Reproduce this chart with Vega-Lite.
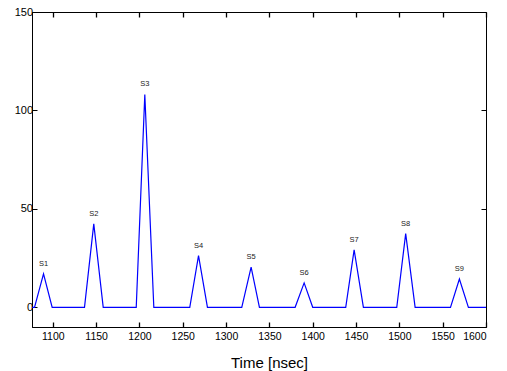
{
  "$schema": "https://vega.github.io/schema/vega-lite/v6.json",
  "width": 454,
  "height": 315,
  "autosize": {"type": "none"},
  "padding": {"left": 32, "top": 12, "right": 21, "bottom": 44},
  "background": "white",
  "config": {
    "view": {"stroke": "black", "strokeWidth": 1},
    "axis": {
      "grid": false,
      "labelFont": "Liberation Sans",
      "titleFont": "Liberation Sans",
      "labelColor": "black",
      "titleColor": "black",
      "tickColor": "black",
      "domainColor": "black",
      "labelFontSize": 11,
      "tickSize": -5,
      "labelFontWeight": "normal",
      "titleFontWeight": "normal"
    }
  },
  "data": {
    "values": [
      {"t": 1076, "v": 0},
      {"t": 1078.9, "v": 0},
      {"t": 1089.3, "v": 17.0, "label": "S1"},
      {"t": 1099.3, "v": 0},
      {"t": 1136.6, "v": 0},
      {"t": 1147.3, "v": 42.4, "label": "S2"},
      {"t": 1158.2, "v": 0},
      {"t": 1196.3, "v": 0},
      {"t": 1206.2, "v": 108.1, "label": "S3"},
      {"t": 1216.6, "v": 0},
      {"t": 1258.1, "v": 0},
      {"t": 1268.2, "v": 26.3, "label": "S4"},
      {"t": 1278.5, "v": 0},
      {"t": 1318.1, "v": 0},
      {"t": 1328.9, "v": 20.4, "label": "S5"},
      {"t": 1338.5, "v": 0},
      {"t": 1379.7, "v": 0},
      {"t": 1390.1, "v": 12.4, "label": "S6"},
      {"t": 1400.0, "v": 0},
      {"t": 1438.1, "v": 0},
      {"t": 1447.8, "v": 29.2, "label": "S7"},
      {"t": 1458.5, "v": 0},
      {"t": 1497.0, "v": 0},
      {"t": 1507.3, "v": 37.4, "label": "S8"},
      {"t": 1518.2, "v": 0},
      {"t": 1559.0, "v": 0},
      {"t": 1569.3, "v": 14.4, "label": "S9"},
      {"t": 1579.7, "v": 0},
      {"t": 1600, "v": 0}
    ]
  },
  "layer": [
    {
      "mark": {"type": "line", "color": "#0000ff", "strokeWidth": 1.2},
      "encoding": {
        "x": {
          "field": "t", "type": "quantitative",
          "scale": {"domain": [1076, 1600], "nice": false, "zero": false},
          "axis": {
            "orient": "bottom", "values": [1100, 1150, 1200, 1250, 1300, 1350, 1400, 1450, 1500, 1550, 1600],
            "format": "d", "ticks": true, "tickColor": "black", "tickWidth": 1.3, "tickSize": -5,
            "title": "Time [nsec]", "titleFontSize": 15, "titlePadding": 13, "labelPadding": 9.5,
            "labelFontSize": 10.5, "titleX": 237
          }
        },
        "y": {
          "field": "v", "type": "quantitative",
          "scale": {"domain": [-10, 150], "nice": false, "zero": false},
          "axis": {"orient": "left", "values": [0, 50, 100, 150], "format": "d", "title": null, "labelPadding": 4.5}
        }
      }
    },
    {
      "transform": [{"filter": "isValid(datum.label)"}],
      "mark": {"type": "text", "font": "Liberation Sans", "fontSize": 7.5, "dy": -10, "baseline": "middle", "color": "#222222"},
      "encoding": {
        "x": {"field": "t", "type": "quantitative", "axis": null},
        "y": {"field": "v", "type": "quantitative", "axis": null},
        "text": {"field": "label"}
      }
    },
    {
      "mark": {"type": "line", "opacity": 0},
      "encoding": {
        "x": {
          "field": "t", "type": "quantitative",
          "axis": {"orient": "top", "values": [1100, 1150, 1200, 1250, 1300, 1350, 1400, 1450, 1500, 1550, 1600], "labels": false, "title": null, "domain": false, "ticks": true, "tickSize": -5, "tickWidth": 1.3, "tickColor": "black"}
        },
        "y": {
          "field": "v", "type": "quantitative",
          "axis": {"orient": "right", "values": [0, 50, 100, 150], "labels": false, "title": null, "domain": false, "ticks": true, "tickSize": -5, "tickColor": "black"}
        }
      }
    }
  ],
  "resolve": {"axis": {"x": "independent", "y": "independent"}}
}
